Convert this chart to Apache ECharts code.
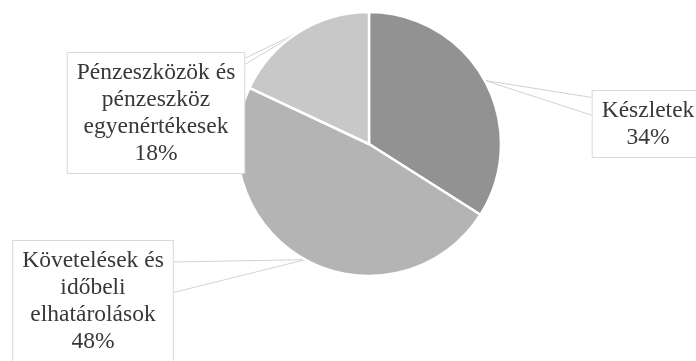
<!DOCTYPE html>
<html>
<head>
<meta charset="utf-8">
<script src="https://cdn.jsdelivr.net/npm/echarts@6/dist/echarts.min.js"></script>
<style>
html,body{margin:0;padding:0;background:#fff;}
#chart{width:696px;height:361px;}
</style>
</head>
<body>
<div id="chart"></div>
<script>
// adatok
var nevek = ["Készletek", "Követelések és\nidőbeli\nelhatárolások", "Pénzeszközök és\npénzeszköz\negyenértékesek"];
var ertekek = [34, 48, 18];
var szinek = ["#929292", "#b4b4b4", "#c8c8c8"];

// cimkek helye (kozeppont) es a mutato ek vegei a doboz oldalan (magassag aranyaban)
var cimkeHely = [[648, 124], [93, 301], [156, 113]];
var ekVeg = [[0.11, 0.37], [0.18, 0.43], [0.05, 0.10]];

var betu = "Liberation Serif";

var myChart = echarts.init(document.getElementById('chart'));
var adat = [];
for (var i = 0; i < nevek.length; i++) {
  adat.push({ name: nevek[i], value: ertekek[i], itemStyle: { color: szinek[i] } });
}

var option = {
  backgroundColor: "#fff",
  animation: false,
  textStyle: { fontFamily: betu },
  series: [{
    type: "pie",
    center: [369, 144],
    radius: 132,
    startAngle: 90,
    clockwise: true,
    silent: true,
    avoidLabelOverlap: false,
    itemStyle: {
      borderColor: "#fff",
      borderWidth: 2.5
    },
    label: {
      show: true,
      formatter: function (p) {
        return p.name + "\n" + Math.round(p.percent) + "%";
      },
      fontFamily: betu,
      fontSize: 23.5,
      lineHeight: 27,
      color: "#383838",
      align: "center",
      backgroundColor: "#fff",
      borderColor: "#d9d9d9",
      borderWidth: 1,
      padding: [6, 9, 6, 9]
    },
    labelLine: {
      show: true,
      length: 20,
      length2: 20,
      lineStyle: { color: "#d2d2d2", width: 1 }
    },
    labelLayout: function (params) {
      var h = cimkeHely[params.dataIndex];
      var ek = ekVeg[params.dataIndex];
      var r = params.labelRect;
      var p0 = params.labelLinePoints ? params.labelLinePoints[0] : null;
      var res = { x: h[0], y: h[1], align: "center", verticalAlign: "middle" };
      if (p0) {
        var top = h[1] - r.height / 2;
        var ex = p0[0] > h[0] ? h[0] + r.width / 2 : h[0] - r.width / 2;
        res.labelLinePoints = [[ex, top + r.height * ek[0]], p0, [ex, top + r.height * ek[1]]];
      }
      return res;
    },
    data: adat
  }]
};

myChart.setOption(option);
</script>
</body>
</html>
